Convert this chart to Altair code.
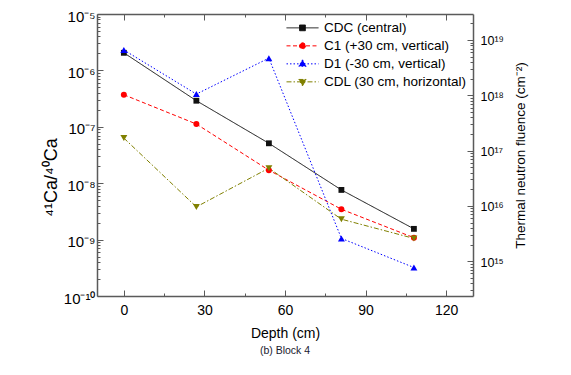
import json
import altair as alt
import pandas as pd

# ---------------- data ----------------
depth = [0, 27, 54, 81, 108]
series_names = ["CDC (central)", "C1 (+30 cm, vertical)", "D1 (-30 cm, vertical)", "CDL (30 cm, horizontal)"]
cdc = [2.05e-6, 2.9e-7, 5.1e-8, 7.6e-9, 1.55e-9]
c1 = [3.7e-7, 1.12e-7, 1.7e-8, 3.45e-9, 1.08e-9]
d1 = [2.3e-6, 3.8e-7, 1.65e-6, 1.05e-9, 3.2e-10]
cdl = [6.3e-8, 3.8e-9, 1.85e-8, 2.3e-9, 1.05e-9]

colors = ["#111111", "#ff0000", "#0000ff", "#808000"]
dashes = [[1, 0], [4, 2.5], [1.5, 2], [5, 2, 1.5, 2]]
shapes = ["square", "circle", "triangle-up", "triangle-down"]
marker_sizes = [34, 36, 48, 48]
# legend glyphs: line sample + marker
legend_paths = [
    "M-1,0H1M-0.18,-0.18H0.18V0.18H-0.18Z",
    "M-1,0H1M0.19,0A0.19,0.19 0 1,1 -0.19,0A0.19,0.19 0 1,1 0.19,0Z",
    "M-1,0H1M0,-0.25L0.23,0.15H-0.23Z",
    "M-1,0H1M0,0.25L0.23,-0.15H-0.23Z",
]

x_major = [0, 30, 60, 90, 120]
x_minor = [15, 45, 75, 105]
left_exps = [-10, -9, -8, -7, -6, -5]
left_labels = ["10⁻¹⁰", "10⁻⁹", "10⁻⁸", "10⁻⁷", "10⁻⁶", "10⁻⁵"]
right_exps = [15, 16, 17, 18, 19]
right_labels = ["10¹⁵", "10¹⁶", "10¹⁷", "10¹⁸", "10¹⁹"]
fluence_major = [1e15, 1e16, 1e17, 1e18, 1e19]
fl_lo, fl_hi = 10 ** 14.37, 10 ** 19.47

rows = []
for name, vals in zip(series_names, [cdc, c1, d1, cdl]):
    for d, v in zip(depth, vals):
        rows.append({"depth": d, "ratio": v, "series": name})
df = pd.DataFrame(rows)
df_right = pd.DataFrame({"xd": x_major, "fl": fluence_major})

# tick helpers (layout only)
left_ticks = [m * 10.0 ** k for k in range(-10, -5) for m in range(1, 10)] + [1e-5]
right_ticks = [m * 10.0 ** k for k in range(14, 20) for m in range(1, 10)
               if fl_lo <= m * 10.0 ** k <= fl_hi]
x_ticks = sorted(x_major + x_minor)


def js(v):
    return json.dumps(v, ensure_ascii=False)


LOGV = "(log(datum.value)/LN10)"
IS_MAJOR_LOG = f"(abs({LOGV} - round({LOGV})) < 0.001)"
IS_MAJOR_X = "(datum.value % 30 === 0)"

FONT = "Liberation Sans"
AXC = "#5a5a5a"

legend = alt.Legend(
    title=None,
    orient="top-right",
    offset=6,
    padding=0,
    labelFont=FONT,
    labelFontSize=13.5,
    labelColor="#000",
    labelOffset=5,
    symbolSize=1024,
    clipHeight=15.7,
    rowPadding=2,
    symbolStrokeWidth=1,
    symbolOpacity=1,
)

x_main = alt.X(
    "depth:Q",
    scale=alt.Scale(domain=[-10, 130], nice=False, zero=False),
    axis=alt.Axis(
        values=x_ticks,
        labelExpr=f"{IS_MAJOR_X} ? datum.label : ''",
        tickSize={"expr": f"{IS_MAJOR_X} ? -6 : -3"},
        labelPadding=13,
        labelFontSize=14,
        labelOverlap=False,
        labelFlush=False,
        title="Depth (cm)",
        titleFontSize=14,
        titleFontWeight="normal",
        titlePadding=6,
    ),
)
y_main = alt.Y(
    "ratio:Q",
    scale=alt.Scale(type="log", domain=[1e-10, 1e-5], nice=False),
    axis=alt.Axis(
        values=left_ticks,
        labelExpr=f"{IS_MAJOR_LOG} ? {js(left_labels)}[indexof({js(left_exps)}, round({LOGV}))] : ''",
        tickSize={"expr": f"{IS_MAJOR_LOG} ? -6 : -3"},
        labelPadding=8,
        labelOffset=2,
        labelFontSize=15,
        labelOverlap=False,
        title="⁴¹Ca/⁴⁰Ca",
        titleFontSize=18,
        titleFontWeight="normal",
        titleAngle=270,
        titleAlign="center",
        titleBaseline="bottom",
        titleY=163,
        titlePadding=3,
    ),
)

# visible series: one line + one marker layer per series
line_layers = []
point_layers = []
for i, name in enumerate(series_names):
    sub = alt.Chart(df).transform_filter(alt.datum.series == name)
    line_layers.append(
        sub.mark_line(color=colors[i], strokeDash=dashes[i], strokeWidth=1, clip=True).encode(x=x_main, y=y_main)
    )
    point_layers.append(
        sub.mark_point(shape=shapes[i], filled=True, color=colors[i], size=marker_sizes[i], opacity=1).encode(
            x=x_main, y=y_main
        )
    )

# legend layer: no visible marks, only drives the legend through its scales
legend_layer = (
    alt.Chart(df)
    .transform_filter("false")
    .mark_point(filled=True, size=1024, strokeWidth=1, opacity=1)
    .encode(
        x=x_main,
        y=y_main,
        fill=alt.Fill("series:N", scale=alt.Scale(domain=series_names, range=colors), legend=legend),
        stroke=alt.Stroke("series:N", scale=alt.Scale(domain=series_names, range=colors), legend=legend),
        shape=alt.Shape("series:N", scale=alt.Scale(domain=series_names, range=legend_paths), legend=legend),
        strokeDash=alt.StrokeDash("series:N", scale=alt.Scale(domain=series_names, range=dashes), legend=legend),
    )
)

right = alt.Chart(df_right).mark_point(opacity=0).encode(
    x=alt.X(
        "xd:Q",
        scale=alt.Scale(domain=[-10, 130], nice=False, zero=False),
        axis=alt.Axis(
            orient="top",
            values=x_ticks,
            labels=False,
            title=None,
            tickSize={"expr": f"{IS_MAJOR_X} ? -6 : -3"},
        ),
    ),
    y=alt.Y(
        "fl:Q",
        scale=alt.Scale(type="log", domain=[fl_lo, fl_hi], nice=False),
        axis=alt.Axis(
            orient="right",
            values=right_ticks,
            labelExpr=f"{IS_MAJOR_LOG} ? {js(right_labels)}[indexof({js(right_exps)}, round({LOGV}))] : ''",
            tickSize={"expr": f"{IS_MAJOR_LOG} ? -6 : -3"},
            labelPadding=13,
            labelOffset=1,
            labelFontSize=12.5,
            labelOverlap=False,
            title="Thermal neutron fluence (cm⁻²)",
            titleFontSize=13.5,
            titleFontWeight="normal",
            titleAngle=270,
            titleBaseline="top",
            titlePadding=10,
        ),
    ),
)

main = alt.layer(*line_layers, *point_layers, legend_layer)

chart = (
    alt.layer(main, right)
    .resolve_scale(x="independent", y="independent")
    .properties(
        width=376,
        height=282,
        autosize=alt.AutoSizeParams(type="none"),
        padding={"left": 89, "top": 6, "right": 90, "bottom": 71},
        title=alt.TitleParams(
            text="(b) Block 4",
            orient="bottom",
            fontSize=10.5,
            fontWeight="normal",
            color="#1a1a2e",
            font=FONT,
            offset=6,
        ),
    )
    .configure(font=FONT)
    .configure_view(stroke=None)
    .configure_axis(
        grid=False,
        domainColor=AXC,
        domainWidth=1.5,
        tickColor=AXC,
        tickWidth=1,
        labelColor="#000",
        titleColor="#000",
        labelFont=FONT,
        titleFont=FONT,
    )
)

chart.save("out.html", embed_options={"renderer": "svg", "actions": False})
